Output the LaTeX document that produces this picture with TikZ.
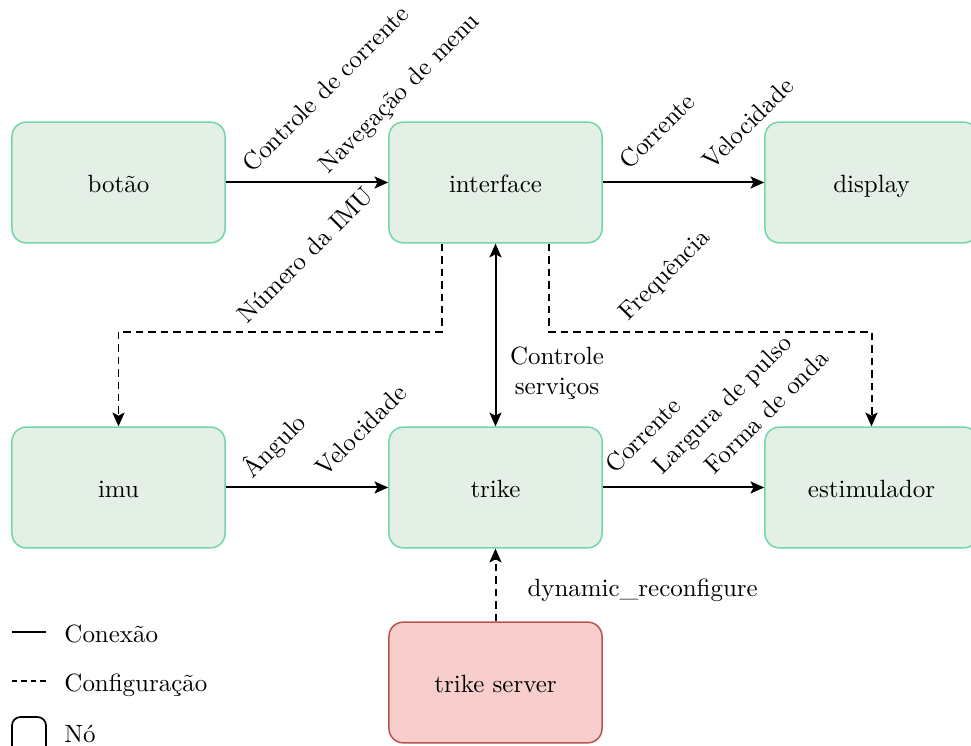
\documentclass[tikz,border=0pt]{standalone}
\usepackage{fontspec}
\usetikzlibrary{arrows.meta}
\definecolor{boxfill}{HTML}{E4F0E6}
\definecolor{boxline}{HTML}{72D6A9}
\definecolor{srvfill}{HTML}{F8CECC}
\definecolor{srvline}{HTML}{B85450}
\begin{document}
\begin{tikzpicture}[x=0.014085cm, y=-0.014085cm,
  block/.style={draw=boxline, fill=boxfill, line width=0.6pt, rounded corners=0.2cm,
    minimum width=3cm, minimum height=1.7cm, align=center,
    text height=1.9ex, text depth=0ex},
  server/.style={block, draw=srvline, fill=srvfill},
  conn/.style={line width=0.8pt, -{Stealth[length=5.5pt,width=4.8pt,inset=1.2pt]}},
  both/.style={line width=0.8pt, {Stealth[length=5.5pt,width=4.8pt,inset=1.2pt]}-{Stealth[length=5.5pt,width=4.8pt,inset=1.2pt]}},
  cfg/.style={conn, densely dashed},
  tag/.style={rotate=45, anchor=base west, inner sep=0pt},
  legendtext/.style={anchor=base west, inner sep=0pt},
]
\useasboundingbox (0,0) rectangle (971,746);

% blocks
\node[block] (botao) at (118.5,182.5) {botão};
\node[block] (interface) at (495.5,182.5) {interface};
\node[block] (display) at (871.5,182.5) {display};
\node[block] (imu) at (118.5,487.5) {imu};
\node[block] (trike) at (495.5,487.5) {trike};
\node[block] (estim) at (871.5,487.5) {estimulador};
\node[server] (server) at (495.5,682.5) {trike server};

% connections
\draw[conn] (botao) -- (interface);
\draw[conn] (interface) -- (display);
\draw[conn] (imu) -- (trike);
\draw[conn] (trike) -- (estim);
\draw[both] (interface) -- (trike);
\draw[cfg] (server) -- (trike);
\draw[cfg] ([xshift=-0.75cm]interface.south) -- ++(0,88) -| (imu.north);
\draw[cfg] ([xshift=0.75cm]interface.south) -- ++(0,88) -| (estim.north);

% edge labels
\node[tag] (l1) at (252,174) {Controle de corrente};
\node[tag] (l2) at (328,175) {Navegação de menu};
\node[tag] (l3) at (247,325) {Número da IMU};
\node[tag] (l4) at (629,171) {Corrente};
\node[tag] (l5) at (712,171) {Velocidade};
\node[tag] (l6) at (628,322) {Frequência};
\node[tag] (l7) at (252,480) {Ângulo};
\node[tag] (l8) at (325,478) {Velocidade};
\node[tag] (l9) at (615,475) {Corrente};
\node[tag] (l10) at (662,476) {Largura de pulso};
\node[tag] (l11) at (714,476) {Forma de onda};
\node[align=center] (ctl) at (557,373) {Controle\\serviços};
\node[anchor=west, inner sep=0pt] (dyn) at (527,590) {dynamic\_reconfigure};

% legend
\coordinate (s1) at (12,632);
\coordinate (e1) at (46,632);
\coordinate (s2) at (12,681);
\coordinate (e2) at (46,681);
\draw[line width=0.7pt] (s1) -- (e1);
\draw[line width=0.7pt, dash pattern=on 2.2pt off 1.6pt] (s2) -- (e2);
\draw[line width=0.7pt, rounded corners=0.12cm] (12,717) rectangle (46,770);
\node[legendtext] (t1) at (64,643) {Conexão};
\node[legendtext] (t2) at (64,692) {Configuração};
\node[legendtext] (t3) at (64,743) {Nó};
\end{tikzpicture}
\end{document}
